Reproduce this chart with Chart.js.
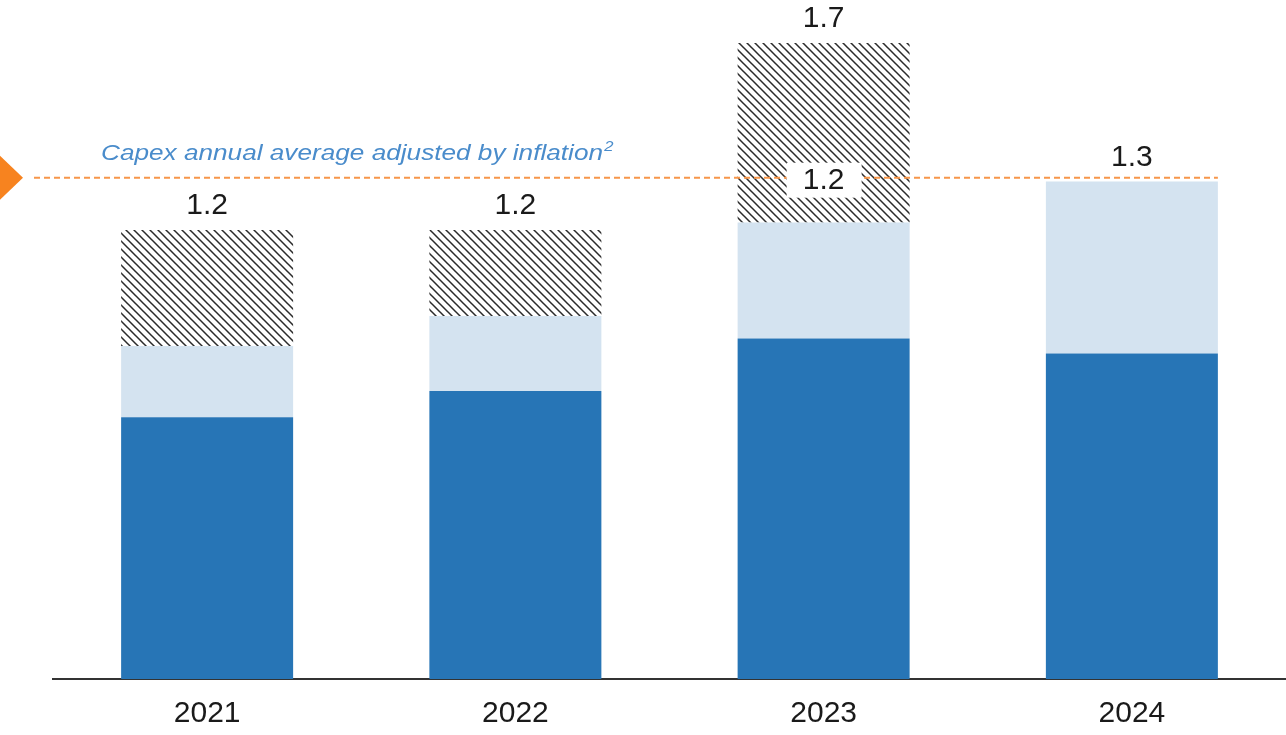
<!DOCTYPE html>
<html>
<head>
<meta charset="utf-8">
<script src="https://cdn.jsdelivr.net/npm/chart.js@4"></script>
<style>
  html, body { margin: 0; padding: 0; background: #fff; }
  #wrap { width: 1286px; height: 735px; }
</style>
</head>
<body>
<div id="wrap"><canvas id="chart" width="1286" height="735"></canvas></div>
<script>
// data (EUR bn)
const years = ['2021', '2022', '2023', '2024'];
const baseCapex = [0.70, 0.77, 0.91, 0.87];
const otherCapex = [0.19, 0.20, 0.31, 0.46];
const extraCapex = [0.31, 0.23, 0.48, 0];
const totalLabels = ['1.2', '1.2', '1.7', '1.3'];
const avgValue = 1.34;
const avgLabel = '1.2';
const avgLabelIndex = 2;
const avgText = 'Capex annual average adjusted by inflation';

const FONT = '"Liberation Sans", Arial, sans-serif';

function hatch() {
  const c = document.createElement('canvas');
  c.width = 8; c.height = 8;
  const g = c.getContext('2d');
  g.strokeStyle = '#2b2b2b';
  g.lineWidth = 1.5;
  g.beginPath();
  g.moveTo(-2, -2); g.lineTo(10, 10);
  g.moveTo(-2, 6); g.lineTo(2, 10);
  g.moveTo(6, -2); g.lineTo(10, 2);
  g.stroke();
  return g.createPattern(c, 'repeat');
}

const labelsPlugin = {
  id: 'labels',
  afterDatasetsDraw(chart) {
    const ctx = chart.ctx;
    const y = chart.scales.y;
    const area = chart.chartArea;
    const lastMeta = chart.getDatasetMeta(1);
    const avgY = y.getPixelForValue(avgValue);
    ctx.save();

    // average line
    const lastBar = lastMeta.data[lastMeta.data.length - 1];
    ctx.strokeStyle = '#f7964a';
    ctx.lineWidth = 2;
    ctx.setLineDash([6, 4]);
    ctx.beginPath();
    ctx.moveTo(area.left - 19, avgY);
    ctx.lineTo(lastBar.x + lastBar.width / 2, avgY);
    ctx.stroke();
    ctx.setLineDash([]);

    // orange marker
    ctx.fillStyle = '#f7831f';
    ctx.beginPath();
    ctx.moveTo(0, avgY - 22);
    ctx.lineTo(23, avgY);
    ctx.lineTo(0, avgY + 22);
    ctx.closePath();
    ctx.fill();

    // caption (stretched a bit wider, like the original)
    ctx.fillStyle = '#4a8ccb';
    ctx.font = 'italic 22px ' + FONT;
    ctx.textAlign = 'left';
    ctx.textBaseline = 'alphabetic';
    const tx = 101, ty = avgY - 18;
    const w = ctx.measureText(avgText).width;
    const sx = 502 / w;
    ctx.save();
    ctx.translate(tx, ty);
    ctx.scale(sx, 1);
    ctx.fillText(avgText, 0, 0);
    ctx.font = 'italic 14px ' + FONT;
    ctx.fillText('2', w + 1, -9);
    ctx.restore();

    // totals on top
    ctx.font = '30px ' + FONT;
    ctx.textAlign = 'center';
    ctx.textBaseline = 'middle';
    years.forEach((yr, i) => {
      const total = baseCapex[i] + otherCapex[i] + extraCapex[i];
      const bar = chart.getDatasetMeta(0).data[i];
      ctx.fillStyle = '#1a1a1a';
      ctx.fillText(totalLabels[i], bar.x, y.getPixelForValue(total) - 24);
    });

    // label box on the average line
    const b = chart.getDatasetMeta(0).data[avgLabelIndex];
    ctx.fillStyle = '#ffffff';
    ctx.fillRect(b.x - 37, avgY - 15, 75, 35);
    ctx.fillStyle = '#1a1a1a';
    ctx.fillText(avgLabel, b.x, avgY + 3);
    ctx.restore();
  }
};

new Chart(document.getElementById('chart'), {
  type: 'bar',
  data: {
    labels: years,
    datasets: [
      { data: baseCapex, backgroundColor: '#2775b6' },
      { data: otherCapex, backgroundColor: '#d4e3f0' },
      { data: extraCapex, backgroundColor: hatch() }
    ]
  },
  options: {
    responsive: false,
    animation: false,
    layout: { padding: { left: 53, right: 0, top: 0, bottom: 0 } },
    plugins: { legend: { display: false }, tooltip: { enabled: false } },
    datasets: { bar: { categoryPercentage: 1, barPercentage: 0.558 } },
    scales: {
      x: {
        stacked: true,
        grid: { display: false, drawTicks: false },
        border: { display: true, color: '#333333', width: 2 },
        ticks: { color: '#1a1a1a', font: { family: FONT, size: 30 }, padding: 17 },
        afterFit(s) { s.height = 56; }
      },
      y: {
        stacked: true,
        display: false,
        min: 0,
        max: 1.815
      }
    }
  },
  plugins: [labelsPlugin]
});
</script>
</body>
</html>
